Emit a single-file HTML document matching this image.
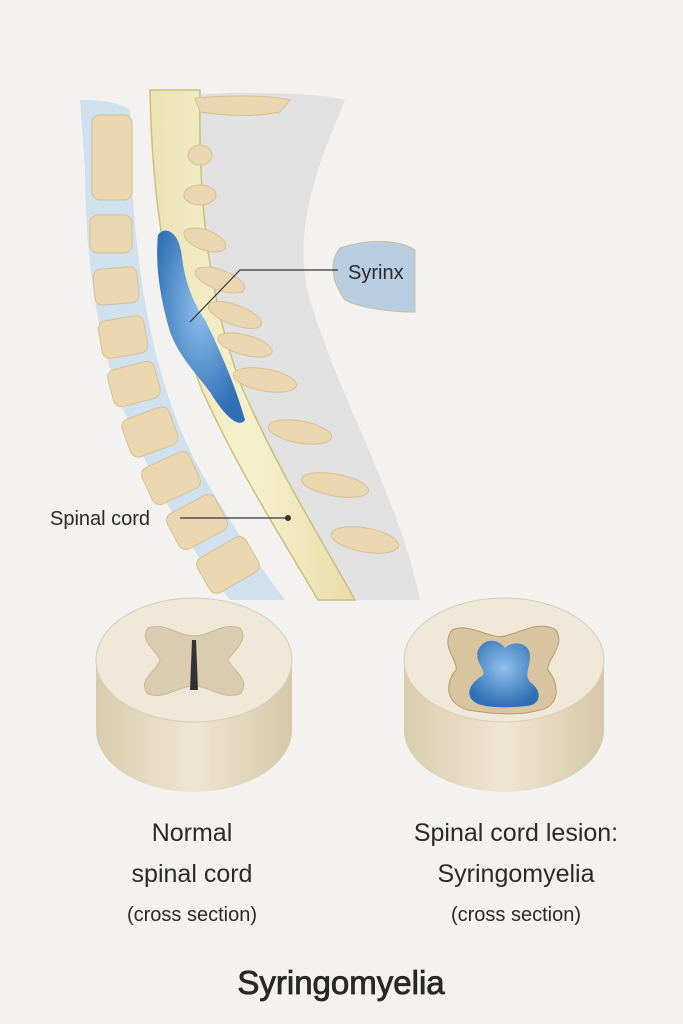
<!DOCTYPE html>
<html><head><meta charset="utf-8"><style>
html,body{margin:0;padding:0;background:#f3f2f0;}
svg{display:block}
text{font-family:"Liberation Sans",sans-serif;fill:#2a2a2a}
</style></head><body>
<svg width="683" height="1024" viewBox="0 0 683 1024" xmlns="http://www.w3.org/2000/svg">
<defs>
<linearGradient id="cyl" x1="0" x2="1">
<stop offset="0" stop-color="#d9ccae"/><stop offset="0.5" stop-color="#efe6d2"/><stop offset="1" stop-color="#d6c8a8"/></linearGradient>
<radialGradient id="blue" cx="0.5" cy="0.4" r="0.6"><stop offset="0" stop-color="#8fc0ea"/><stop offset="1" stop-color="#2f6fb6"/></radialGradient>
<linearGradient id="cordg" x1="0" x2="1"><stop offset="0" stop-color="#ece3b4"/><stop offset="0.5" stop-color="#f6f0cf"/><stop offset="1" stop-color="#e8dca6"/></linearGradient>
</defs>
<rect width="683" height="1024" fill="#f3f2f0"/>
<path d="M190,95 C260,90 330,95 345,100 C320,160 290,230 310,300 C340,400 400,500 420,600 L330,600 C300,520 250,430 220,330 C200,250 190,170 190,95Z" fill="#dcdcdf" opacity="0.8"/>
<path d="M80,100 C95,100 115,100 130,110 C130,250 150,380 200,470 C240,540 270,580 285,600 L230,600 C190,550 150,480 120,400 C95,330 85,250 85,170Z" fill="#cfe0ee"/>
<g fill="#ead7b0" stroke="#d8c093" stroke-width="1">
<rect x="92" y="115" width="40" height="85" rx="8"/>
<rect x="90" y="215" width="42" height="38" rx="8"/>
<rect x="94" y="268" width="44" height="36" rx="8" transform="rotate(-5 116 286)"/>
<rect x="100" y="318" width="46" height="38" rx="8" transform="rotate(-10 123 337)"/>
<rect x="110" y="365" width="48" height="38" rx="8" transform="rotate(-15 134 384)"/>
<rect x="125" y="412" width="50" height="40" rx="8" transform="rotate(-20 150 432)"/>
<rect x="145" y="458" width="52" height="40" rx="8" transform="rotate(-25 171 478)"/>
<rect x="170" y="502" width="54" height="40" rx="8" transform="rotate(-28 197 522)"/>
<rect x="200" y="545" width="56" height="40" rx="8" transform="rotate(-30 228 565)"/>
</g>
<path d="M150,90 L200,90 C198,200 208,300 243,390 C283,480 322,540 355,600 L318,600 C283,540 238,470 202,390 C167,300 152,200 150,90Z" fill="url(#cordg)" stroke="#cdbf7c" stroke-width="1.5"/>
<path d="M158,235 C165,225 180,232 182,258 C186,285 192,300 205,320 C220,350 235,385 245,420 C238,430 222,412 210,392 C195,372 175,352 168,325 C160,295 155,265 158,235Z" fill="url(#blue)"/>
<g fill="#ead7b0" stroke="#d8c093">
<ellipse cx="200" cy="155" rx="12" ry="10"/>
<ellipse cx="200" cy="195" rx="16" ry="10"/>
<ellipse cx="205" cy="240" rx="22" ry="10" transform="rotate(20 205 240)"/>
<ellipse cx="220" cy="280" rx="26" ry="10" transform="rotate(20 220 280)"/>
<ellipse cx="235" cy="315" rx="28" ry="10" transform="rotate(20 235 315)"/>
<ellipse cx="245" cy="345" rx="28" ry="10" transform="rotate(15 245 345)"/>
<ellipse cx="265" cy="380" rx="32" ry="11" transform="rotate(10 265 380)"/>
<ellipse cx="300" cy="432" rx="32" ry="11" transform="rotate(10 300 432)"/>
<ellipse cx="335" cy="485" rx="34" ry="11" transform="rotate(10 335 485)"/>
<ellipse cx="365" cy="540" rx="34" ry="12" transform="rotate(10 365 540)"/>
</g>
<path d="M195,98 C230,95 270,95 290,100 L280,112 C250,118 220,115 200,112Z" fill="#ead7b0" stroke="#d8c093"/>
<path d="M340,248 C370,238 400,240 415,250 L415,312 C390,312 360,308 345,300 C330,280 330,260 340,248Z" fill="#b8cde0" stroke="#c8c0a0"/>
<polyline points="190,322 240,270 338,270" fill="none" stroke="#333" stroke-width="1.2"/>
<line x1="180" y1="518" x2="288" y2="518" stroke="#333" stroke-width="1.2"/>
<circle cx="288" cy="518" r="3" fill="#333"/>
<text x="348" y="279" font-size="20">Syrinx</text>
<text x="50" y="525" font-size="20">Spinal cord</text>
<path d="M96,660 L96,730 A98,62 0 0 0 292,730 L292,660Z" fill="url(#cyl)"/>
<ellipse cx="194" cy="660" rx="98" ry="62" fill="#efe8d8" stroke="#d9cfb5"/>
<path d="M148,628 C165,622 178,636 194,636 C210,636 222,622 240,628 C250,640 232,652 228,660 C232,670 252,680 240,694 C222,700 210,686 194,686 C178,686 165,700 148,694 C136,680 158,670 160,660 C158,652 138,640 148,628Z" fill="#d9ccb0" stroke="#c9b994"/>
<path d="M192,640 L196,640 L198,690 L190,690Z" fill="#333"/>
<path d="M404,660 L404,730 A100,62 0 0 0 604,730 L604,660Z" fill="url(#cyl)"/>
<ellipse cx="504" cy="660" rx="100" ry="62" fill="#efe8d8" stroke="#d9cfb5"/>
<path d="M452,630 C470,622 490,640 505,636 C522,632 540,620 556,630 C566,646 546,660 548,670 C560,684 560,706 540,710 C520,716 492,714 468,710 C446,704 444,684 456,670 C458,660 440,646 452,630Z" fill="#d9c4a0" stroke="#b89a6a"/>
<path d="M478,650 C485,636 500,640 505,648 C512,640 530,642 530,656 C530,668 524,674 530,682 C544,692 540,706 526,706 C510,708 490,708 478,704 C464,698 468,684 482,676 C488,670 474,664 478,650Z" fill="url(#blue)"/>
<g text-anchor="middle">
<text x="192" y="841" font-size="25">Normal</text>
<text x="192" y="882" font-size="25">spinal cord</text>
<text x="192" y="921" font-size="20" fill="#444">(cross section)</text>
<text x="516" y="841" font-size="25">Spinal cord lesion:</text>
<text x="516" y="882" font-size="25">Syringomyelia</text>
<text x="516" y="921" font-size="20" fill="#444">(cross section)</text>
<text x="341" y="994" font-size="33" stroke="#222" stroke-width="0.8" fill="#222">Syringomyelia</text>
</g>
</svg>
</body></html>
